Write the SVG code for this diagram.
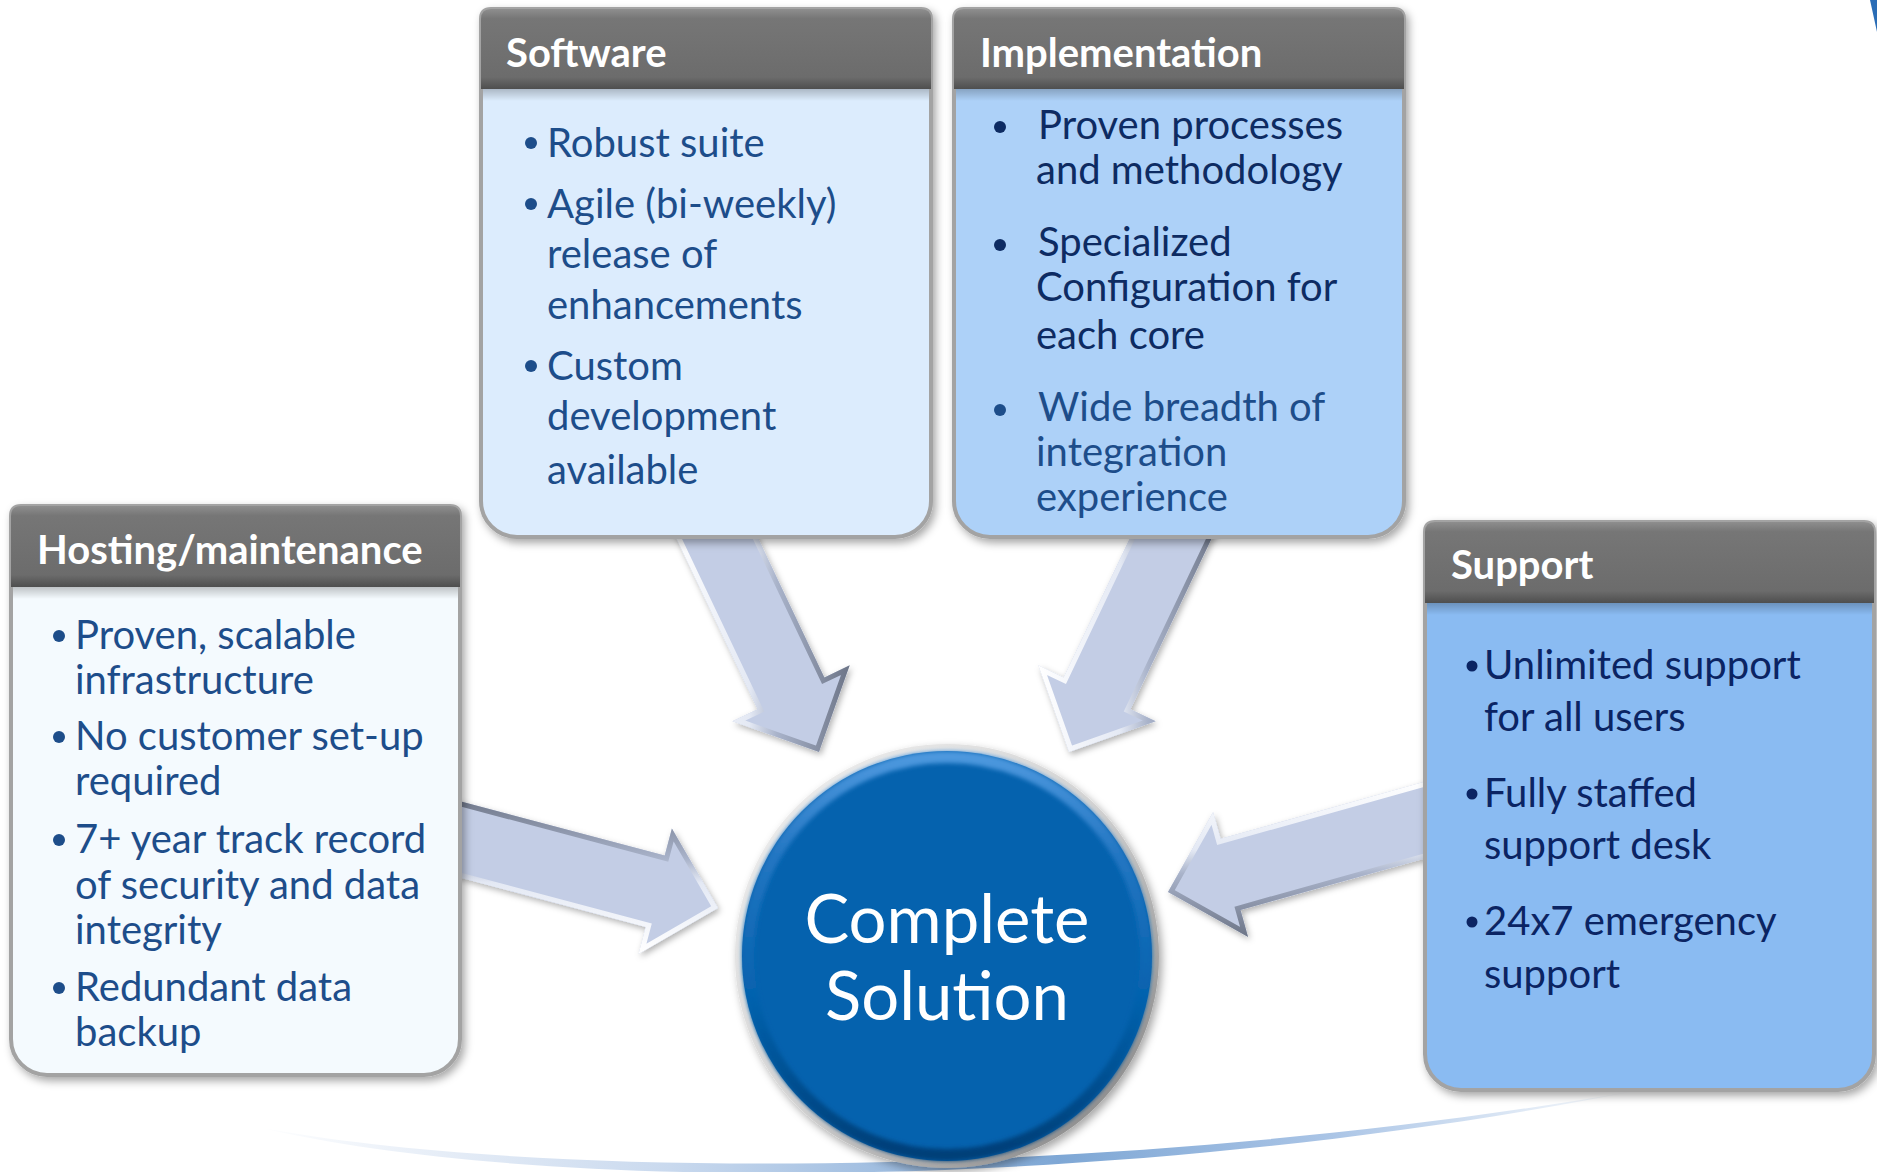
<svg xmlns="http://www.w3.org/2000/svg" width="1877" height="1172" viewBox="0 0 1877 1172">
<defs>
<style>
.t{font-family:Lato,"Open Sans","Liberation Sans",sans-serif;font-size:40px}
.h{font-family:Lato,"Open Sans","Liberation Sans",sans-serif;font-size:40px;font-weight:bold;fill:#ffffff}
.c1{fill:#1d4d8a}
.c2{fill:#0d2b62}
.c3{fill:#0b2463}
.box{stroke:#a3a3a3;stroke-width:4}
.hd{fill:url(#hdrG)}
.arrow{fill:#c3cde5}
.bev{fill:none;stroke-width:10}
.ctext{font-family:Lato,"Open Sans","Liberation Sans",sans-serif;font-size:67px;fill:#ffffff;text-anchor:middle}
</style>
<filter id="sh" x="-10%" y="-10%" width="125%" height="125%">
<feDropShadow dx="3" dy="4" stdDeviation="4" flood-color="#000" flood-opacity="0.35"/>
</filter>
<filter id="shA" x="-10%" y="-10%" width="125%" height="125%">
<feDropShadow dx="2" dy="3" stdDeviation="3" flood-color="#000" flood-opacity="0.3"/>
</filter>
<filter id="blur2"><feGaussianBlur stdDeviation="2"/></filter>
<linearGradient id="hdrG" x1="0" y1="0" x2="0" y2="1">
<stop offset="0" stop-color="#8e8e8e"/>
<stop offset="0.12" stop-color="#767676"/>
<stop offset="0.85" stop-color="#6c6c6c"/>
<stop offset="1" stop-color="#4e4e4e"/>
</linearGradient>
<linearGradient id="hsh" x1="0" y1="0" x2="0" y2="1">
<stop offset="0" stop-color="#000" stop-opacity="0.22"/>
<stop offset="1" stop-color="#000" stop-opacity="0"/>
</linearGradient>
<linearGradient id="bevL" x1="0" y1="0" x2="1" y2="0">
<stop offset="0" stop-color="#ffffff"/>
<stop offset="0.45" stop-color="#e4e9f4"/>
<stop offset="0.6" stop-color="#a9b3ca"/>
<stop offset="1" stop-color="#6d7587"/>
</linearGradient>
<linearGradient id="bevB" x1="0" y1="1" x2="0" y2="0">
<stop offset="0" stop-color="#ffffff"/>
<stop offset="0.45" stop-color="#e4e9f4"/>
<stop offset="0.6" stop-color="#a9b3ca"/>
<stop offset="1" stop-color="#6d7587"/>
</linearGradient>
<linearGradient id="bevT" x1="0" y1="0" x2="0" y2="1">
<stop offset="0" stop-color="#ffffff"/>
<stop offset="0.45" stop-color="#e4e9f4"/>
<stop offset="0.6" stop-color="#a9b3ca"/>
<stop offset="1" stop-color="#6d7587"/>
</linearGradient>
<linearGradient id="ringG" x1="0" y1="0" x2="1" y2="1">
<stop offset="0" stop-color="#f4f4f4"/>
<stop offset="0.5" stop-color="#d2d2d2"/>
<stop offset="1" stop-color="#777777"/>
</linearGradient>
<linearGradient id="cbev" x1="0" y1="0" x2="0" y2="1">
<stop offset="0" stop-color="#4d98de"/>
<stop offset="0.25" stop-color="#2376c2"/>
<stop offset="0.6" stop-color="#0562ae"/>
<stop offset="1" stop-color="#023f78"/>
</linearGradient>
<linearGradient id="arcG" gradientUnits="userSpaceOnUse" x1="255" y1="0" x2="1640" y2="0">
<stop offset="0" stop-color="#ffffff"/>
<stop offset="0.15" stop-color="#e3ebf6"/>
<stop offset="0.3" stop-color="#c9d9ee"/>
<stop offset="0.58" stop-color="#7ea7d5"/>
<stop offset="0.78" stop-color="#abc5e6"/>
<stop offset="1" stop-color="#ffffff"/>
</linearGradient>
<polygon id="a1" points="667.3,519.6 734.1,487.8 824.4,677.4 849.7,665.3 819,752 732.3,721.3 757.6,709.2"/>
<polygon id="a2" points="1220.7,519.6 1153.9,487.8 1063.6,677.4 1038.3,665.3 1069,752 1155.7,721.3 1130.4,709.2"/>
<polygon id="a3" points="439.5,795.7 664.7,855.6 671.9,828.5 718,908 638.5,954.1 645.7,927 420.5,867.1"/>
<polygon id="a4" points="1435,778.7 1220.6,838.8 1213.1,811.9 1168,892 1248.1,937 1240.6,910.1 1455,850"/>
<clipPath id="k1"><use href="#a1"/></clipPath>
<clipPath id="k2"><use href="#a2"/></clipPath>
<clipPath id="k3"><use href="#a3"/></clipPath>
<clipPath id="k4"><use href="#a4"/></clipPath>
</defs>

<rect width="1877" height="1172" fill="#ffffff"/>
<path d="M257,1127 C560,1198 1150,1188 1640,1090 C1150,1176 560,1184 257,1127 Z" fill="url(#arcG)"/>
<polygon points="1870,0 1877,0 1877,32" fill="#2a6db6"/>

<g id="connectors">
<g filter="url(#shA)"><use href="#a1" class="arrow"/></g>
<use href="#a1" class="bev" stroke="url(#bevL)" clip-path="url(#k1)"/>
<g filter="url(#shA)"><use href="#a2" class="arrow"/></g>
<use href="#a2" class="bev" stroke="url(#bevL)" clip-path="url(#k2)"/>
<g filter="url(#shA)"><use href="#a3" class="arrow"/></g>
<use href="#a3" class="bev" stroke="url(#bevB)" clip-path="url(#k3)"/>
<g filter="url(#shA)"><use href="#a4" class="arrow"/></g>
<use href="#a4" class="bev" stroke="url(#bevT)" clip-path="url(#k4)"/>
</g>

<g id="software">
<path class="box" filter="url(#sh)" fill="#dcecfd" d="M491,9 H921 Q931,9 931,19 V501 A36,36 0 0 1 895,537 H517 A36,36 0 0 1 481,501 V19 Q481,9 491,9 Z"/>
<rect x="483" y="89" width="446" height="12" fill="url(#hsh)"/>
<path class="hd" d="M491,9 H921 Q931,9 931,19 V89 H481 V19 Q481,9 491,9 Z"/>
<text class="h" x="506" y="67">Software</text>
<g class="c1">
<circle cx="531" cy="143" r="6"/><circle cx="531" cy="204" r="6"/><circle cx="531" cy="366" r="6"/>
<text class="t" x="547" y="157">Robust suite</text>
<text class="t" x="547" y="218">Agile (bi-weekly)</text>
<text class="t" x="547" y="268">release of</text>
<text class="t" x="547" y="319">enhancements</text>
<text class="t" x="547" y="380">Custom</text>
<text class="t" x="547" y="430">development</text>
<text class="t" x="547" y="484">available</text>
</g>
</g>

<g id="implementation">
<path class="box" filter="url(#sh)" fill="#add1f8" d="M964,9 H1394 Q1404,9 1404,19 V501 A36,36 0 0 1 1368,537 H990 A36,36 0 0 1 954,501 V19 Q954,9 964,9 Z"/>
<rect x="956" y="89" width="446" height="12" fill="url(#hsh)"/>
<path class="hd" d="M964,9 H1394 Q1404,9 1404,19 V89 H954 V19 Q954,9 964,9 Z"/>
<text class="h" x="980" y="67">Implementation</text>
<g class="c2">
<circle cx="1000" cy="127" r="6"/><circle cx="1000" cy="245" r="6"/>
<text class="t" x="1038" y="139">Proven processes</text>
<text class="t" x="1036" y="184">and methodology</text>
<text class="t" x="1038" y="256">Specialized</text>
<text class="t" x="1036" y="301">Configuration for</text>
<text class="t" x="1036" y="349">each core</text>
</g>
<g class="c1">
<circle cx="1000" cy="410" r="6"/>
<text class="t" x="1038" y="421">Wide breadth of</text>
<text class="t" x="1036" y="466">integration</text>
<text class="t" x="1036" y="511">experience</text>
</g>
</g>

<g id="hosting">
<path class="box" filter="url(#sh)" fill="#f4fafe" d="M21,506 H450 Q460,506 460,516 V1039 A36,36 0 0 1 424,1075 H47 A36,36 0 0 1 11,1039 V516 Q11,506 21,506 Z"/>
<rect x="13" y="587" width="445" height="12" fill="url(#hsh)"/>
<path class="hd" d="M21,506 H450 Q460,506 460,516 V587 H11 V516 Q11,506 21,506 Z"/>
<text class="h" x="37" y="564">Hosting/maintenance</text>
<g class="c1">
<circle cx="59" cy="636" r="6"/><circle cx="59" cy="737" r="6"/><circle cx="59" cy="840" r="6"/><circle cx="59" cy="988" r="6"/>
<text class="t" x="75" y="649">Proven, scalable</text>
<text class="t" x="75" y="694">infrastructure</text>
<text class="t" x="75" y="750">No customer set-up</text>
<text class="t" x="75" y="795">required</text>
<text class="t" x="75" y="853">7+ year track record</text>
<text class="t" x="75" y="899">of security and data</text>
<text class="t" x="75" y="944">integrity</text>
<text class="t" x="75" y="1001">Redundant data</text>
<text class="t" x="75" y="1046">backup</text>
</g>
</g>

<g id="support">
<path class="box" filter="url(#sh)" fill="#8abbf2" d="M1435,522 H1864 Q1874,522 1874,532 V1054 A36,36 0 0 1 1838,1090 H1461 A36,36 0 0 1 1425,1054 V532 Q1425,522 1435,522 Z"/>
<rect x="1427" y="603" width="445" height="12" fill="url(#hsh)"/>
<path class="hd" d="M1435,522 H1864 Q1874,522 1874,532 V603 H1425 V532 Q1425,522 1435,522 Z"/>
<text class="h" x="1451" y="579">Support</text>
<g class="c3">
<circle cx="1472" cy="666" r="5.5"/><circle cx="1472" cy="794" r="5.5"/><circle cx="1472" cy="922" r="5.5"/>
<text class="t" x="1484" y="679">Unlimited support</text>
<text class="t" x="1484" y="731">for all users</text>
<text class="t" x="1484" y="807">Fully staffed</text>
<text class="t" x="1484" y="859">support desk</text>
<text class="t" x="1484" y="935">24x7 emergency</text>
<text class="t" x="1484" y="988">support</text>
</g>
</g>

<g id="complete-solution">
<circle cx="947" cy="956" r="212" fill="url(#ringG)" filter="url(#sh)"/>
<circle cx="947" cy="956" r="205" fill="#0562ae"/>
<circle cx="947" cy="956" r="199" fill="none" stroke="url(#cbev)" stroke-width="12" filter="url(#blur2)"/>
<text class="ctext" x="947" y="943">Complete</text>
<text class="ctext" x="947" y="1020">Solution</text>
</g>
</svg>
